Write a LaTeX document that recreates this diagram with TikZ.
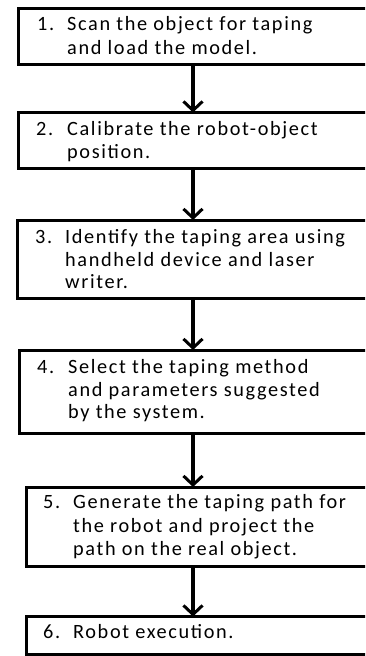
\documentclass[tikz,border=0pt]{standalone}
\usepackage{fontspec}
\setmainfont{Carlito}[LetterSpace=8]
\usetikzlibrary{arrows.meta}
\tikzset{
  stepbox/.style={draw=black, line width=3pt, anchor=north west, inner sep=0pt, outer sep=0pt},
  txt/.style={anchor=base west, inner sep=0pt, font=\fontsize{20.3}{24}\selectfont, text=black},
  arr/.style={line width=3.5pt, -{Straight Barb[length=9pt,width=19pt,line width=3pt]}}
}
\begin{document}
\begin{tikzpicture}[x=1pt,y=1pt]
\clip (0,0) rectangle (365,-656);
\fill[white] (0,0) rectangle (365,-656);
% boxes
\node[stepbox, minimum width=380pt-18.5pt, minimum height=55.5pt] (b1) at (18.5,-8.5) {};
\node[stepbox, minimum width=380pt-18pt, minimum height=56pt] (b2) at (18,-112.5) {};
\node[stepbox, minimum width=380pt-17pt, minimum height=78pt] (b3) at (17,-220) {};
\node[stepbox, minimum width=380pt-19pt, minimum height=83pt] (b4) at (19,-350) {};
\node[stepbox, minimum width=380pt-26pt, minimum height=79pt] (b5) at (26,-487) {};
\node[stepbox, minimum width=380pt-26pt, minimum height=38pt] (b6) at (26,-616.5) {};
% arrows
\coordinate (ax) at (193,0);
\draw[arr] (b1.south -| ax) -- (b2.north -| ax);
\draw[arr] (b2.south -| ax) -- (b3.north -| ax);
\draw[arr] (b3.south -| ax) -- (b4.north -| ax);
\draw[arr] (b4.south -| ax) -- (b5.north -| ax);
\draw[arr] (b5.south -| ax) -- (b6.north -| ax);
% texts
\node[txt] (n1) at (37,-30) {1.};
\node[txt] (t1a) at (67,-30) {Scan the object for taping};
\node[txt] (t1b) at (67,-54) {and load the model.};
\node[txt] (n2) at (36,-135) {2.};
\node[txt] (t2a) at (67,-135) {Calibrate the robot-object};
\node[txt] (t2b) at (67,-158) {position.};
\node[txt] (n3) at (35,-243) {3.};
\node[txt] (t3a) at (65,-243) {Identify the taping area using};
\node[txt] (t3b) at (65,-266) {handheld device and laser};
\node[txt] (t3c) at (65,-288) {writer.};
\node[txt] (n4) at (37,-373) {4.};
\node[txt] (t4a) at (68,-373) {Select the taping method};
\node[txt] (t4b) at (68,-396) {and parameters suggested};
\node[txt] (t4c) at (68,-418) {by the system.};
\node[txt] (n5) at (43,-508) {5.};
\node[txt] (t5a) at (73,-508) {Generate the taping path for};
\node[txt] (t5b) at (73,-532) {the robot and project the};
\node[txt] (t5c) at (73,-555) {path on the real object.};
\node[txt] (n6) at (43,-638) {6.};
\node[txt] (t6a) at (73,-638) {Robot execution.};
\end{tikzpicture}
\end{document}
